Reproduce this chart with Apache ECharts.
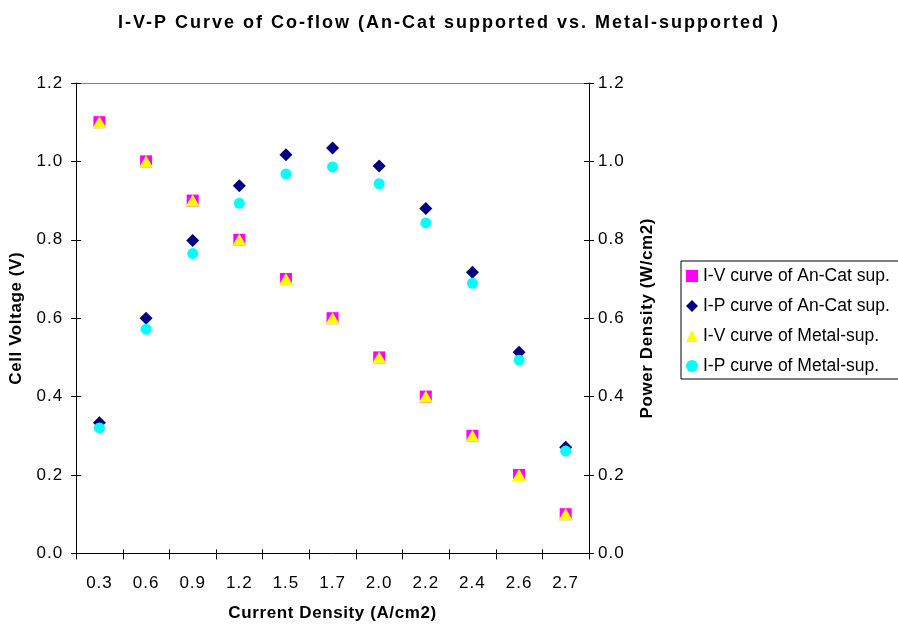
<!DOCTYPE html>
<html>
<head>
<meta charset="utf-8">
<script src="https://cdn.jsdelivr.net/npm/echarts@6/dist/echarts.min.js"></script>
<style>
  html, body { margin: 0; padding: 0; background: #fff; }
  #chart { width: 898px; height: 627px; }
</style>
</head>
<body>
<div id="chart"></div>
<script>
// Current density categories (A/cm2)
const currentDensity = ['0.3', '0.6', '0.9', '1.2', '1.5', '1.7', '2.0', '2.2', '2.4', '2.6', '2.7'];

// Cell voltage (V)
const ivAnCat = [1.1, 1.0, 0.9, 0.8, 0.7, 0.6, 0.5, 0.4, 0.3, 0.2, 0.1];
const ivMetal = [1.1, 1.0, 0.9, 0.8, 0.7, 0.6, 0.5, 0.4, 0.3, 0.2, 0.1];

// Power density (W/cm2)
const ipAnCat = [0.333, 0.600, 0.798, 0.938, 1.017, 1.034, 0.988, 0.880, 0.717, 0.513, 0.271];
const ipMetal = [0.320, 0.572, 0.765, 0.893, 0.968, 0.986, 0.943, 0.843, 0.689, 0.493, 0.261];

// Slightly open letter spacing for the canvas text, keyed on the font in use
(function () {
  const proto = CanvasRenderingContext2D.prototype;
  if (!('letterSpacing' in proto)) return;
  function spacingFor(font) {
    const m = /(\d+(?:\.\d+)?)px/.exec(font || '');
    const px = m ? parseFloat(m[1]) : 12;
    const bold = /bold|[6-9]00/.test(font || '');
    if (bold && px >= 18) return 2;
    if (bold) return 0.6;
    if (px === 17) return 1;
    return 0;
  }
  const fill = proto.fillText, stroke = proto.strokeText, measure = proto.measureText;
  proto.fillText = function () { this.letterSpacing = spacingFor(this.font) + 'px'; return fill.apply(this, arguments); };
  proto.strokeText = function () { this.letterSpacing = spacingFor(this.font) + 'px'; return stroke.apply(this, arguments); };
  proto.measureText = function () { this.letterSpacing = spacingFor(this.font) + 'px'; return measure.apply(this, arguments); };
})();

const FONT = 'Liberation Sans, Arial, sans-serif';
const axisLabelStyle = { color: '#000', fontSize: 17, fontFamily: FONT };
const nameStyle = { color: '#000', fontSize: 17, fontWeight: 'bold', fontFamily: FONT };
const BLACK = { color: '#000', width: 1 };

// Main value axis: line and labels; the ticks come from a companion axis
function valueAxis(position, opts) {
  return Object.assign({
    type: 'value', position: position, min: 0, max: 1.2, interval: 0.2,
    splitLine: { show: false },
    axisLine: { show: true, onZero: false, lineStyle: BLACK },
    axisTick: { show: false },
    axisLabel: Object.assign({ formatter: v => v.toFixed(1), margin: 13 }, axisLabelStyle)
  }, opts || {});
}

// Companion value axis pulled 5px inward so its 10px ticks cross the axis line
function tickAxis(position) {
  return {
    type: 'value', position: position, min: 0, max: 1.2, interval: 0.2, offset: -5,
    splitLine: { show: false },
    axisLine: { show: false, onZero: false },
    axisTick: { show: true, inside: false, length: 10, lineStyle: BLACK },
    axisLabel: { show: false }
  };
}

const chart = echarts.init(document.getElementById('chart'), null, { renderer: 'canvas' });

chart.setOption({
  animation: false,
  backgroundColor: '#fff',
  title: {
    text: 'I-V-P Curve of Co-flow (An-Cat supported vs. Metal-supported )',
    left: 'center', top: 8,
    textStyle: { color: '#000', fontSize: 18, fontWeight: 'bold', fontFamily: FONT }
  },
  grid: { left: 76, right: 309, top: 83, bottom: 72 },
  legend: {
    orient: 'vertical', left: 681, top: 261,
    itemWidth: 12, itemHeight: 12, itemGap: 12,
    padding: [6, 30, 4, 5],
    borderColor: '#000', borderWidth: 1,
    textStyle: { color: '#000', fontSize: 17.5, fontFamily: FONT },
    data: ['I-V curve of An-Cat sup.', 'I-P curve of An-Cat sup.', 'I-V curve of Metal-sup.', 'I-P curve of Metal-sup.']
  },
  xAxis: [
    {
      type: 'category', data: currentDensity, position: 'bottom', boundaryGap: true,
      axisLine: { show: true, onZero: false, lineStyle: BLACK },
      axisTick: { show: false },
      axisLabel: Object.assign({ margin: 21 }, axisLabelStyle),
      name: 'Current Density (A/cm2)', nameLocation: 'middle', nameGap: 51,
      nameTextStyle: nameStyle
    },
    {
      type: 'category', data: currentDensity, position: 'bottom', boundaryGap: true, offset: -4,
      axisLine: { show: false, onZero: false },
      axisTick: { show: true, inside: false, length: 10, lineStyle: BLACK },
      axisLabel: { show: false }
    },
    {
      type: 'category', data: currentDensity, position: 'top', boundaryGap: true,
      axisLine: { show: true, onZero: false, lineStyle: { color: '#808080', width: 1 } },
      axisTick: { show: false }, axisLabel: { show: false }
    }
  ],
  yAxis: [
    valueAxis('left', {
      name: 'Cell Voltage (V)', nameLocation: 'middle', nameGap: 49, nameRotate: 90,
      nameTextStyle: nameStyle
    }),
    valueAxis('right', {
      name: 'Power Density (W/cm2)', nameLocation: 'middle', nameGap: 50, nameRotate: 90,
      nameTextStyle: nameStyle,
      axisLabel: Object.assign({ formatter: v => v.toFixed(1), margin: 9 }, axisLabelStyle)
    }),
    tickAxis('left'),
    tickAxis('right')
  ],
  series: [
    {
      name: 'I-V curve of An-Cat sup.', type: 'scatter', xAxisIndex: 0, yAxisIndex: 0,
      data: ivAnCat, symbol: 'rect', symbolSize: 12, z: 2,
      itemStyle: { color: '#FF00FF', opacity: 1 }
    },
    {
      name: 'I-P curve of An-Cat sup.', type: 'scatter', xAxisIndex: 0, yAxisIndex: 1,
      data: ipAnCat, symbol: 'diamond', symbolSize: [13, 13], z: 3,
      itemStyle: { color: '#000080', opacity: 1 }
    },
    {
      name: 'I-V curve of Metal-sup.', type: 'scatter', xAxisIndex: 0, yAxisIndex: 0,
      data: ivMetal, symbol: 'triangle', symbolSize: [14, 12], z: 4,
      itemStyle: { color: '#FFFF00', opacity: 1 }
    },
    {
      name: 'I-P curve of Metal-sup.', type: 'scatter', xAxisIndex: 0, yAxisIndex: 1,
      data: ipMetal, symbol: 'circle', symbolSize: 11, z: 5,
      itemStyle: { color: '#00FFFF', opacity: 1 }
    }
  ]
});
</script>
</body>
</html>
